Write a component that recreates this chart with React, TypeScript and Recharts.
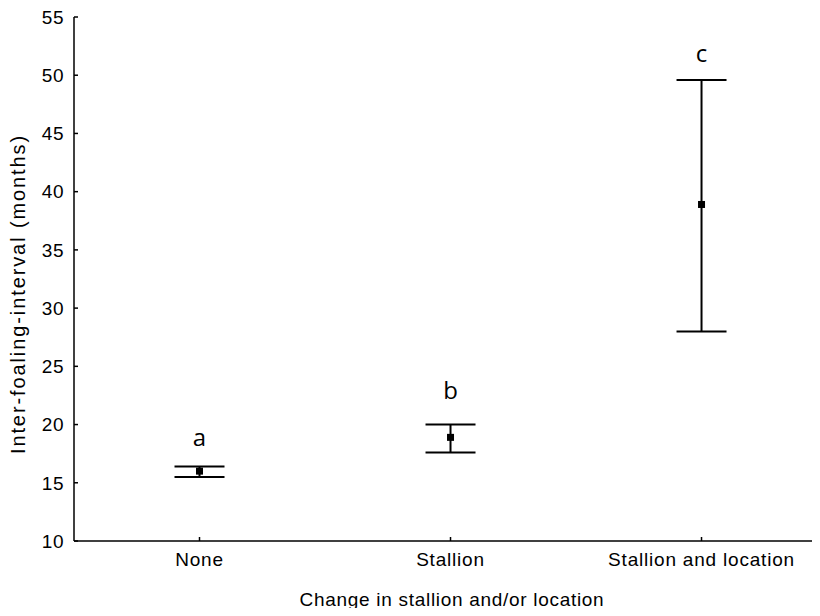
import React from 'react';
import {
  ComposedChart,
  Scatter,
  ErrorBar,
  XAxis,
  YAxis,
  ReferenceDot,
  Label,
} from 'recharts';

// Group means of the inter-foaling interval with their interval bounds
const categories = ['None', 'Stallion', 'Stallion and location'];
const meanValues = [16.0, 18.9, 38.9];
const lowerValues = [15.5, 17.6, 28.0];
const upperValues = [16.4, 20.0, 49.6];

// Significance-group letters and the value at which each one sits
const groupLetters = ['a', 'b', 'c'];
const letterY = [18.9, 22.9, 51.9];

const yTicks = [10, 15, 20, 25, 30, 35, 40, 45, 50, 55];
const xTicks = [1, 2, 3];

const data = categories.map((name, i) => ({
  x: i + 1,
  name,
  mean: meanValues[i],
  err: [meanValues[i] - lowerValues[i], upperValues[i] - meanValues[i]],
}));

const FONT = '"Liberation Sans", Arial, sans-serif';
const X_DOMAIN: [number, number] = [0.5, 3.472];

const MeanSquare = (props: any) => {
  const { cx, cy } = props;
  if (cx == null || cy == null) return null;
  return <rect x={cx - 3.5} y={cy - 3.5} width={7} height={7} fill="#000" />;
};

const YTitle = (props: any) => {
  const vb = props.viewBox || {};
  const cx = vb.x + 10;
  const cy = vb.y + vb.height / 2 + 15;
  return (
    <text
      x={cx}
      y={cy}
      transform={`rotate(-90 ${cx} ${cy})`}
      textAnchor="middle"
      dominantBaseline="central"
      fontSize={20}
      letterSpacing={1.9}
      fontFamily={FONT}
      fill="#000"
    >
      Inter-foaling-interval (months)
    </text>
  );
};

const XTitle = (props: any) => {
  const vb = props.viewBox || {};
  const cx = vb.x + vb.width / 2 + 5;
  return (
    <text
      x={cx}
      y={598}
      textAnchor="middle"
      fontSize={19}
      letterSpacing={0.7}
      fontFamily={FONT}
      fill="#000"
    >
      Change in stallion and/or location
    </text>
  );
};

export default function App() {
  return (
    <div style={{ width: 812, height: 600 }}>
      <ComposedChart
        width={812}
        height={608}
        data={data}
        margin={{ top: 9, right: 0, bottom: 0, left: 0 }}
      >
        <XAxis
          xAxisId={0}
          dataKey="x"
          type="number"
          domain={X_DOMAIN}
          ticks={xTicks}
          tickFormatter={(v: number) => categories[v - 1]}
          height={75}
          stroke="#000"
          strokeWidth={1.5}
          tickSize={-4}
          tickMargin={16}
          tick={{ fontSize: 19, fill: '#000', fontFamily: FONT, letterSpacing: 0.8 }}
          interval={0}
        >
          <Label content={<XTitle />} />
        </XAxis>
        <XAxis
          xAxisId="top"
          orientation="top"
          dataKey="x"
          type="number"
          domain={X_DOMAIN}
          ticks={xTicks}
          height={0}
          stroke="#000"
          strokeWidth={1.5}
          tickSize={-4}
          tick={false}
        />
        <YAxis
          dataKey="mean"
          type="number"
          domain={[10, 55]}
          ticks={yTicks}
          width={66}
          stroke="#000"
          strokeWidth={1.5}
          tickSize={-4}
          tickMargin={14}
          tick={{ fontSize: 19, fill: '#000', fontFamily: FONT, letterSpacing: 0.5 }}
          interval={0}
        >
          <Label content={<YTitle />} />
        </YAxis>
        <Scatter data={data} shape={<MeanSquare />} isAnimationActive={false}>
          <ErrorBar
            dataKey="err"
            direction="y"
            width={25}
            stroke="#000"
            strokeWidth={2}
            isAnimationActive={false}
          />
        </Scatter>
        {groupLetters.map((letter, i) => (
          <ReferenceDot
            key={letter}
            x={i + 1}
            y={letterY[i]}
            r={0}
            fill="none"
            stroke="none"
            label={{
              value: letter,
              position: 'center',
              fontSize: 24,
              fill: '#000',
              fontFamily: '"Open Sans", sans-serif',
            }}
          />
        ))}
      </ComposedChart>
    </div>
  );
}
